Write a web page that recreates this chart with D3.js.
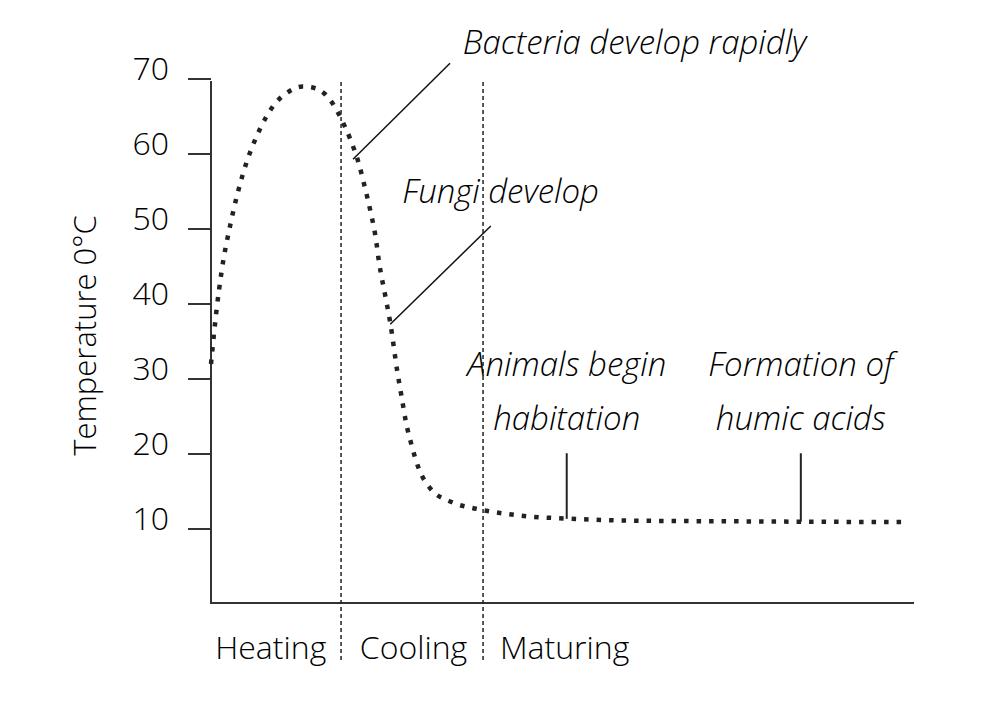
<!DOCTYPE html>
<html>
<head>
<meta charset="utf-8">
<script src="https://cdn.jsdelivr.net/npm/d3@7"></script>
<style>
  body { margin: 0; background: #fff; }
  text { font-family: "Open Sans", "Noto Sans", sans-serif; font-weight: 300; fill: #000; }
</style>
</head>
<body>
<div id="chart"></div>
<script>
// Composting temperature curve (time in arbitrary units 0-100)
const time = [0, 0.8, 1.5, 2.8, 4.5, 7.0, 8.7, 11.2, 13.0, 14.7, 16.2, 17.4, 18.35, 19.8, 21.0, 21.9,
              22.7, 23.4, 23.9, 24.85, 25.5, 26.5, 27.1, 27.7, 28.5, 29.5, 31.2, 34.2, 37.7, 41.4,
              44.9, 50.5, 57.5, 64.7, 73.5, 84.2, 99.2];
const temperature = [32, 39.3, 44.3, 50.8, 57.2, 63.4, 66.2, 68.4, 69, 68.8, 68, 66.6, 65, 62, 58.8, 55.5,
                     52.3, 49, 45.6, 40.8, 37.5, 31, 27.7, 24.4, 21.3, 18.2, 15.4, 13.6, 12.7, 12.1,
                     11.7, 11.4, 11.16, 11.07, 11.03, 10.97, 10.93];

const yTicks = [10, 20, 30, 40, 50, 60, 70];
const phaseBounds = [18.5, 38.7];
const phaseLabels = ["Heating", "Cooling", "Maturing"];
const phaseLabelX = [8.5, 28.8, 50.3];

// slanted notes: label, text position, leader line from (x1,y1) to (x2,y2)
const slantNotes = [
  { label: "Bacteria develop rapidly", tx: 35.8, ty: 73.4, x1: 34.0, y1: 72.1, x2: 20.2, y2: 59.3 },
  { label: "Fungi develop", tx: 27.2, ty: 53.5, x1: 39.8, y1: 50.4, x2: 25.5, y2: 37.3 }
];
// notes with a vertical pointer down to the curve
const stemNotes = [
  { lines: ["Animals begin", "habitation"], t: 50.6, top: 20.1, bottom: 11.35 },
  { lines: ["Formation of", "humic acids"], t: 83.9, top: 20.1, bottom: 10.98 }
];

const width = 989, height = 712;
const svg = d3.select("#chart").append("svg")
    .attr("width", width)
    .attr("height", height);

const x = d3.scaleLinear().domain([0, 100]).range([211, 914]);
const y = d3.scaleLinear().domain([0, 70]).range([604, 79]);

// axes lines
svg.append("line")
    .attr("x1", x(0)).attr("x2", x(0))
    .attr("y1", y(70) + 2).attr("y2", y(0))
    .attr("stroke", "#333").attr("stroke-width", 2);
svg.append("line")
    .attr("x1", x(0) - 1).attr("x2", x(100))
    .attr("y1", y(0) - 1).attr("y2", y(0) - 1)
    .attr("stroke", "#333").attr("stroke-width", 2);

// y ticks
const ticks = svg.append("g").selectAll("g")
    .data(yTicks)
    .enter().append("g");
ticks.append("line")
    .attr("x1", x(0) - 23).attr("x2", x(0))
    .attr("y1", d => y(d)).attr("y2", d => y(d))
    .attr("stroke", "#333").attr("stroke-width", 2);
ticks.append("text")
    .attr("x", x(0) - 42)
    .attr("y", d => y(d) + 1)
    .attr("text-anchor", "end")
    .style("font-size", "32px")
    .text(d => d);

// y title
svg.append("text")
    .attr("transform", `translate(96, ${y(35.8)}) rotate(-90)`)
    .attr("text-anchor", "middle")
    .style("font-size", "31px")
    .text("Temperature 0°C");

// phase boundaries
svg.append("g").selectAll("line")
    .data(phaseBounds)
    .enter().append("line")
    .attr("x1", d => x(d)).attr("x2", d => x(d))
    .attr("y1", y(70) + 3).attr("y2", 660)
    .attr("stroke", "#222").attr("stroke-width", 1.5)
    .attr("stroke-dasharray", "4,3");

svg.append("g").selectAll("text")
    .data(phaseLabels)
    .enter().append("text")
    .attr("x", (d, i) => x(phaseLabelX[i]))
    .attr("y", 659)
    .attr("text-anchor", "middle")
    .style("font-size", "32px")
    .text(d => d);

// temperature curve
const line = d3.line()
    .x(d => x(d[0]))
    .y(d => y(d[1]))
    .curve(d3.curveMonotoneX);

svg.append("path")
    .datum(time.map((t, i) => [t, temperature[i]]))
    .attr("d", line)
    .attr("fill", "none")
    .attr("stroke", "#222")
    .attr("stroke-width", 4.5)
    .attr("stroke-dasharray", "4.5,8");

// slanted annotations
const sn = svg.append("g").selectAll("g").data(slantNotes).enter().append("g");
sn.append("line")
    .attr("x1", d => x(d.x1)).attr("y1", d => y(d.y1))
    .attr("x2", d => x(d.x2)).attr("y2", d => y(d.y2))
    .attr("stroke", "#111").attr("stroke-width", 1.5);
sn.append("text")
    .attr("x", d => x(d.tx)).attr("y", d => y(d.ty))
    .style("font-size", "33px")
    .style("font-style", "italic")
    .text(d => d.label);

// stem annotations
const st = svg.append("g").selectAll("g").data(stemNotes).enter().append("g");
st.append("line")
    .attr("x1", d => x(d.t)).attr("x2", d => x(d.t))
    .attr("y1", d => y(d.top)).attr("y2", d => y(d.bottom))
    .attr("stroke", "#222").attr("stroke-width", 2);
st.each(function (d) {
    d3.select(this).selectAll("text")
        .data(d.lines)
        .enter().append("text")
        .attr("x", x(d.t))
        .attr("y", (l, i) => 376 + i * 54)
        .attr("text-anchor", "middle")
        .style("font-size", "33px")
        .style("font-style", "italic")
        .text(l => l);
});
</script>
</body>
</html>
